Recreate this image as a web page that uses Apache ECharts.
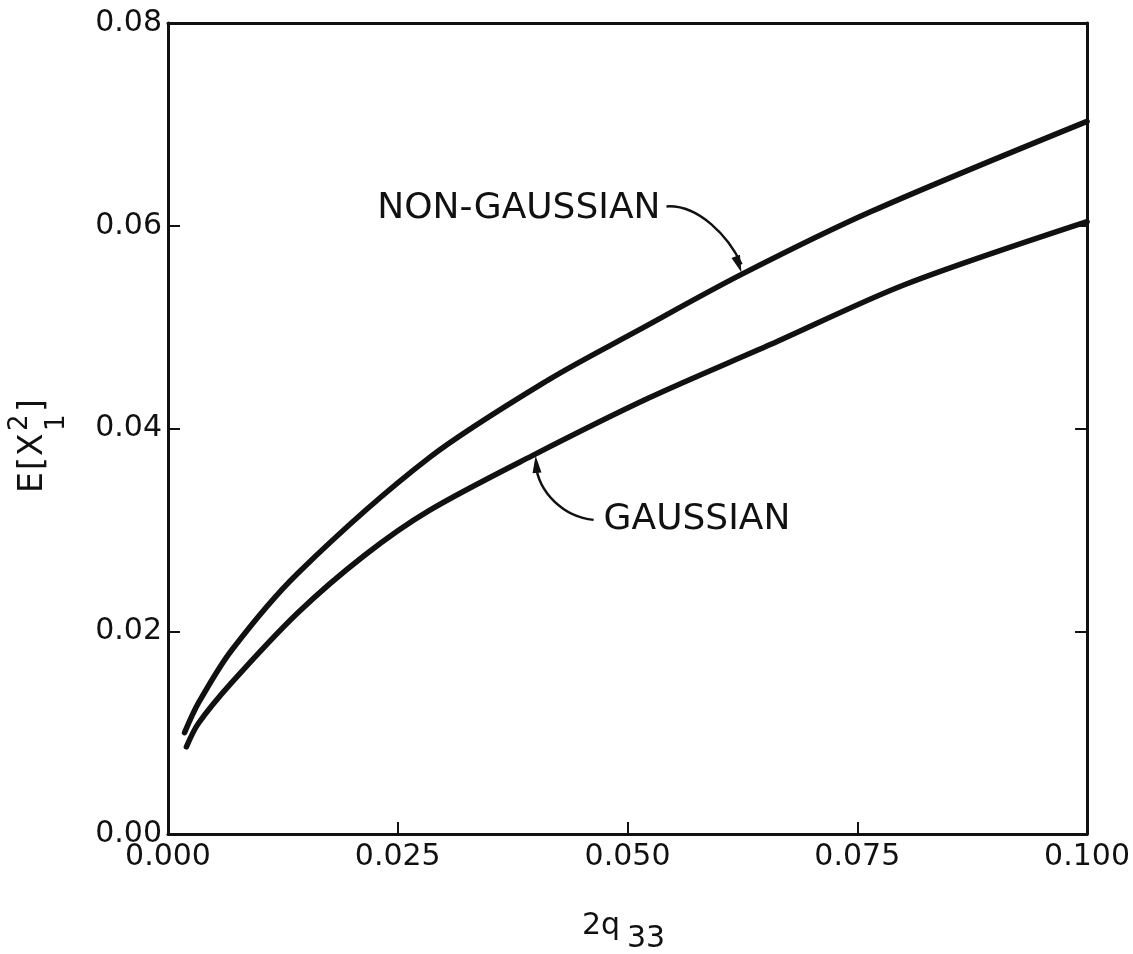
<!DOCTYPE html>
<html>
<head>
<meta charset="utf-8">
<script src="https://cdn.jsdelivr.net/npm/echarts@6/dist/echarts.min.js"></script>
<style>
  html, body { margin: 0; padding: 0; background: #fff; }
  #chart { width: 1133px; height: 954px; }
</style>
</head>
<body>
<div id="chart"></div>
<script>
// ---- data ----
const xTicks = [0.000, 0.025, 0.050, 0.075, 0.100];
const yTicks = [0.00, 0.02, 0.04, 0.06, 0.08];

const nonGaussianX = [0.0018, 0.0033, 0.0069, 0.0141, 0.0284, 0.0414, 0.0512, 0.0624, 0.0765, 0.1000];
const nonGaussianY = [0.0100, 0.0129, 0.0181, 0.0257, 0.0371, 0.0448, 0.0497, 0.0552, 0.0614, 0.0703];

const gaussianX = [0.0020, 0.0033, 0.0069, 0.0141, 0.0214, 0.0284, 0.0396, 0.0523, 0.0656, 0.0802, 0.1000];
const gaussianY = [0.0086, 0.0109, 0.0149, 0.0218, 0.0275, 0.0319, 0.0373, 0.0430, 0.0483, 0.0542, 0.0604];

const labelNonGaussian = 'NON-GAUSSIAN';
const labelGaussian = 'GAUSSIAN';
// annotation arrow tips (data space, on the curves)
const tipNonGaussian = [0.0624, 0.0554];
const tipGaussian = [0.0400, 0.0373];

// ---- chart ----
const FONT = 'DejaVu Sans';
const INK = '#111';
const chart = echarts.init(document.getElementById('chart'), null, { renderer: 'canvas' });

function zip(xs, ys) { return xs.map((x, i) => [x, ys[i]]); }

const axisLine = { show: true, onZero: false, lineStyle: { color: INK, width: 3 } };
const tickStyle = { show: true, inside: true, length: 12, lineStyle: { color: INK, width: 2 } };

chart.setOption({
  backgroundColor: '#fff',
  animation: false,
  grid: { left: 168, right: 43, top: 23, bottom: 120 },
  xAxis: [
    {
      type: 'value', min: xTicks[0], max: xTicks[xTicks.length - 1], interval: 0.025,
      position: 'bottom',
      axisLine: axisLine, axisTick: tickStyle, splitLine: { show: false },
      axisLabel: { color: INK, fontFamily: FONT, fontSize: 30, margin: 8,
        formatter: v => v.toFixed(3) }
    },
    {
      type: 'value', min: xTicks[0], max: xTicks[xTicks.length - 1], interval: 0.025,
      position: 'top',
      axisLine: axisLine, axisTick: { show: false }, axisLabel: { show: false }, splitLine: { show: false }
    }
  ],
  yAxis: [
    {
      type: 'value', min: yTicks[0], max: yTicks[yTicks.length - 1], interval: 0.02,
      position: 'left',
      axisLine: axisLine, axisTick: tickStyle, splitLine: { show: false },
      axisLabel: { color: INK, fontFamily: FONT, fontSize: 30, margin: 6,
        formatter: v => v.toFixed(2) }
    },
    {
      type: 'value', min: yTicks[0], max: yTicks[yTicks.length - 1], interval: 0.02,
      position: 'right',
      axisLine: axisLine, axisTick: tickStyle, axisLabel: { show: false }, splitLine: { show: false }
    }
  ],
  series: [
    {
      name: labelNonGaussian, type: 'line', xAxisIndex: 0, yAxisIndex: 0,
      data: zip(nonGaussianX, nonGaussianY), smooth: 0.3,
      showSymbol: false, symbol: 'none',
      lineStyle: { color: INK, width: 5.5, cap: 'round', join: 'round' }
    },
    {
      name: labelGaussian, type: 'line', xAxisIndex: 0, yAxisIndex: 0,
      data: zip(gaussianX, gaussianY), smooth: 0.3,
      showSymbol: false, symbol: 'none',
      lineStyle: { color: INK, width: 5.5, cap: 'round', join: 'round' }
    }
  ]
});

// ---- annotations & axis titles ----
function arrowHead(tip, from, len, half) {
  const dx = tip[0] - from[0], dy = tip[1] - from[1];
  const d = Math.hypot(dx, dy);
  const ux = dx / d, uy = dy / d;
  const bx = tip[0] - ux * len, by = tip[1] - uy * len;
  return [[tip[0], tip[1]], [bx - uy * half, by + ux * half], [bx + uy * half, by - ux * half]];
}
function add(p, o) { return [p[0] + o[0], p[1] + o[1]]; }

const tU = chart.convertToPixel({ gridIndex: 0 }, tipNonGaussian);
const tL = chart.convertToPixel({ gridIndex: 0 }, tipGaussian);

const uStart = add(tU, [-75, -66]), uC1 = add(tU, [-43, -68]), uC2 = add(tU, [-13, -36]);
const lStart = add(tL, [58, 64]), lC1 = add(tL, [28, 61]), lC2 = add(tL, [3, 37]);

const textStyleBase = { fill: INK, fontFamily: FONT };

chart.setOption({
  graphic: [
    { type: 'text', style: Object.assign({}, textStyleBase, {
        text: labelNonGaussian, x: tU[0] - 81, y: tU[1] - 64, fontSize: 36,
        align: 'right', verticalAlign: 'middle' }) },
    { type: 'bezierCurve', shape: { x1: uStart[0], y1: uStart[1], cpx1: uC1[0], cpy1: uC1[1],
        cpx2: uC2[0], cpy2: uC2[1], x2: tU[0], y2: tU[1] - 8 },
      style: { stroke: INK, lineWidth: 2.5, fill: null } },
    { type: 'polygon', shape: { points: arrowHead(tU, uC2, 17, 4.5) }, style: { fill: INK } },

    { type: 'text', style: Object.assign({}, textStyleBase, {
        text: labelGaussian, x: tL[0] + 68, y: tL[1] + 64, fontSize: 36,
        align: 'left', verticalAlign: 'middle' }) },
    { type: 'bezierCurve', shape: { x1: lStart[0], y1: lStart[1], cpx1: lC1[0], cpy1: lC1[1],
        cpx2: lC2[0], cpy2: lC2[1], x2: tL[0], y2: tL[1] + 8 },
      style: { stroke: INK, lineWidth: 2.5, fill: null } },
    { type: 'polygon', shape: { points: arrowHead(tL, lC2, 17, 4.5) }, style: { fill: INK } },

    // x-axis title: 2q33 (33 as subscript)
    { type: 'text', style: Object.assign({}, textStyleBase, {
        text: '2q', x: 582, y: 926, fontSize: 30, align: 'left', verticalAlign: 'middle' }) },
    { type: 'text', style: Object.assign({}, textStyleBase, {
        text: '33', x: 627, y: 939, fontSize: 30, align: 'left', verticalAlign: 'middle' }) },

    // y-axis title: E[X_1^2] rotated
    { type: 'group', x: 33, y: 437, rotation: Math.PI / 2, children: [
      { type: 'text', style: Object.assign({}, textStyleBase, {
          text: 'E', x: -56, y: 0, fontSize: 33, align: 'left', verticalAlign: 'middle' }) },
      { type: 'text', style: Object.assign({}, textStyleBase, {
          text: '[', x: -33, y: 0, fontSize: 33, align: 'left', verticalAlign: 'middle' }) },
      { type: 'text', style: Object.assign({}, textStyleBase, {
          text: 'X', x: -19, y: 0, fontSize: 33, align: 'left', verticalAlign: 'middle' }) },
      { type: 'text', style: Object.assign({}, textStyleBase, {
          text: '2', x: 6, y: -13, fontSize: 26, align: 'left', verticalAlign: 'middle' }) },
      { type: 'text', style: Object.assign({}, textStyleBase, {
          text: '1', x: 6, y: 24, fontSize: 26, align: 'left', verticalAlign: 'middle' }) },
      { type: 'text', style: Object.assign({}, textStyleBase, {
          text: ']', x: 25, y: 0, fontSize: 33, align: 'left', verticalAlign: 'middle' }) }
    ] }
  ]
});
</script>
</body>
</html>
